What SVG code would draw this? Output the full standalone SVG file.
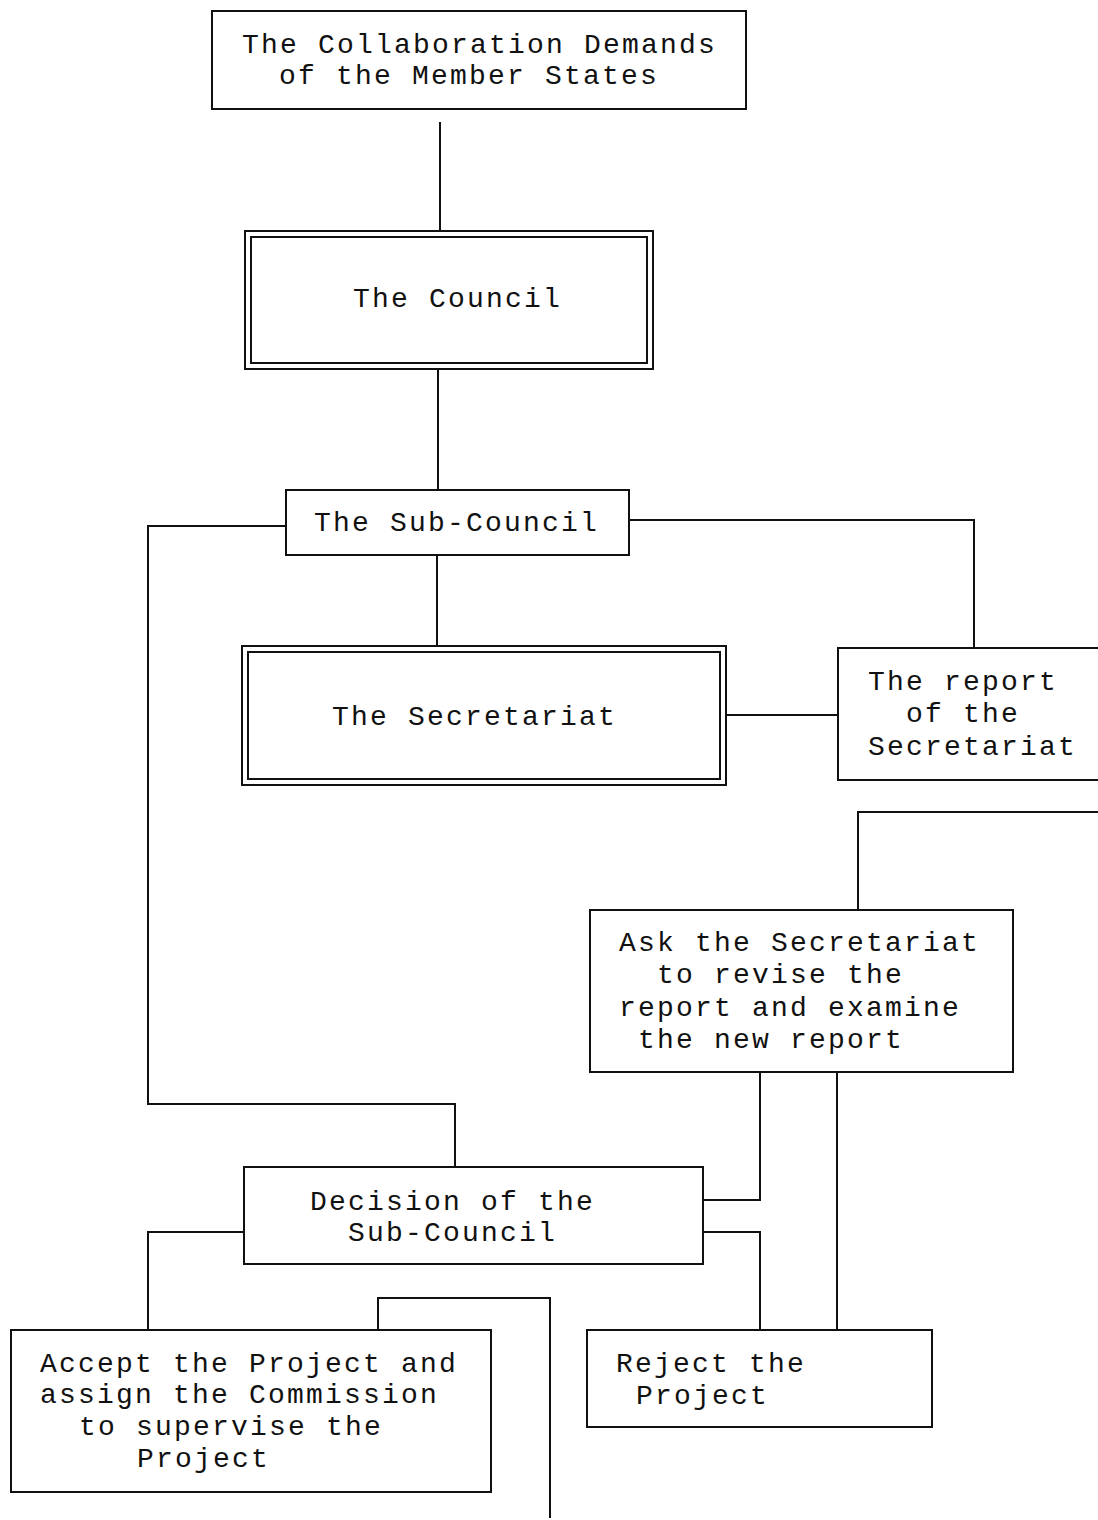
<svg xmlns="http://www.w3.org/2000/svg" width="1098" height="1520" viewBox="0 0 1098 1520">
  <style>
    .box { fill: #fff; stroke: #111; stroke-width: 2; }
    .wire { fill: none; stroke: #111; stroke-width: 2; }
    .lbl { font-family: "Liberation Mono", "Courier New", monospace; font-size: 28px; letter-spacing: 2.2px; fill: #111; }
  </style>
  <rect width="1098" height="1520" fill="#fff"/>

  <!-- connectors -->
  <g id="connectors" class="wire">
    <path d="M440 122 V232"/>
    <path d="M438 369 V490"/>
    <path d="M286 526 H148 V1104 H455 V1167"/>
    <path d="M629 520 H974 V648"/>
    <path d="M437 555 V646"/>
    <path d="M726 715 H838"/>
    <path d="M1098 812 H858 V910"/>
    <path d="M760 1072 V1200 H703"/>
    <path d="M837 1072 V1330"/>
    <path d="M244 1232 H148 V1330"/>
    <path d="M703 1232 H760 V1330"/>
    <path d="M378 1330 V1298 H550 V1518"/>
  </g>

  <g id="member-states">
    <rect class="box" x="212" y="11" width="534" height="98"/>
    <text class="lbl" x="242" y="53">The Collaboration Demands</text>
    <text class="lbl" x="279" y="84">of the Member States</text>
  </g>

  <g id="council">
    <rect class="box" x="245" y="231" width="408" height="138"/>
    <rect class="box" x="251" y="237" width="396" height="126"/>
    <text class="lbl" x="353" y="307">The Council</text>
  </g>

  <g id="sub-council">
    <rect class="box" x="286" y="490" width="343" height="65"/>
    <text class="lbl" x="314" y="531">The Sub-Council</text>
  </g>

  <g id="secretariat">
    <rect class="box" x="242" y="646" width="484" height="139"/>
    <rect class="box" x="248" y="652" width="472" height="127"/>
    <text class="lbl" x="332" y="725">The Secretariat</text>
  </g>

  <g id="report">
    <rect class="box" x="838" y="648" width="270" height="132"/>
    <text class="lbl" x="868" y="690">The report</text>
    <text class="lbl" x="906" y="722">of the</text>
    <text class="lbl" x="868" y="755">Secretariat</text>
  </g>

  <g id="revise">
    <rect class="box" x="590" y="910" width="423" height="162"/>
    <text class="lbl" x="619" y="951">Ask the Secretariat</text>
    <text class="lbl" x="657" y="983">to revise the</text>
    <text class="lbl" x="619" y="1016">report and examine</text>
    <text class="lbl" x="638" y="1048">the new report</text>
  </g>

  <g id="decision">
    <rect class="box" x="244" y="1167" width="459" height="97"/>
    <text class="lbl" x="310" y="1210">Decision of the</text>
    <text class="lbl" x="348" y="1241">Sub-Council</text>
  </g>

  <g id="accept">
    <rect class="box" x="11" y="1330" width="480" height="162"/>
    <text class="lbl" x="40" y="1372">Accept the Project and</text>
    <text class="lbl" x="40" y="1403">assign the Commission</text>
    <text class="lbl" x="79" y="1435">to supervise the</text>
    <text class="lbl" x="137" y="1467">Project</text>
  </g>

  <g id="reject">
    <rect class="box" x="587" y="1330" width="345" height="97"/>
    <text class="lbl" x="616" y="1372">Reject the</text>
    <text class="lbl" x="636" y="1404">Project</text>
  </g>
</svg>
